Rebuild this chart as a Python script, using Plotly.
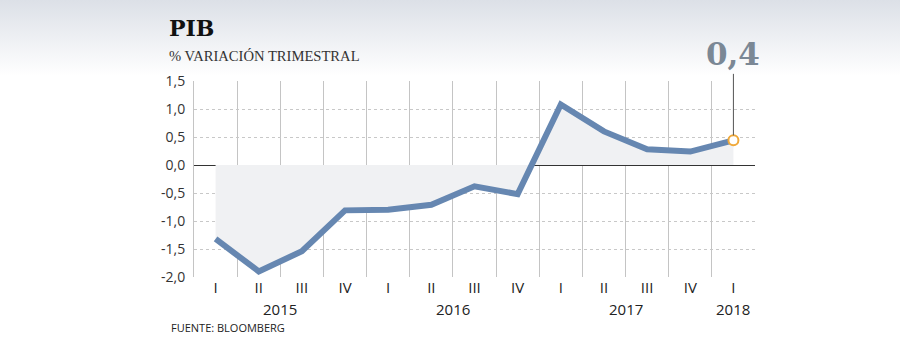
import base64
import plotly.graph_objects as go

# ---------------- data ----------------
quarters = ["I", "II", "III", "IV", "I", "II", "III", "IV", "I", "II", "III", "IV", "I"]
years = ["2015", "2015", "2015", "2015", "2016", "2016", "2016", "2016",
         "2017", "2017", "2017", "2017", "2018"]
gdp_qoq = [-1.32, -1.90, -1.54, -0.81, -0.80, -0.71, -0.38, -0.52,
           1.08, 0.60, 0.28, 0.24, 0.44]
y_tickvals = [-2.0, -1.5, -1.0, -0.5, 0.0, 0.5, 1.0, 1.5]
y_ticktext = ["-2,0", "-1,5", "-1,0", "-0,5", "0,0", "0,5", "1,0", "1,5"]
title = "PIB"
subtitle = "% VARIACIÓN TRIMESTRAL"
source = "FUENTE: BLOOMBERG"

# ---------------- layout geometry ----------------
W, H = 900, 354
L, R, T, B = 194, 145, 81, 77
PW, PH = W - L - R, H - T - B

def px_x(x):
    return (x - L) / PW

def px_y(y):
    return (H - B - y) / PH

idx = list(range(len(gdp_qoq)))
LINE = "#6687b1"

fig = go.Figure()
fig.add_trace(go.Scatter(
    x=idx, y=gdp_qoq, mode="lines", fill="tozeroy",
    fillcolor="#f0f1f3", line=dict(color=LINE, width=6),
    hoverinfo="skip", showlegend=False,
))
fig.add_trace(go.Scatter(
    x=[idx[-1]], y=[gdp_qoq[-1]], mode="markers",
    marker=dict(size=10, color="white", line=dict(color="#f0a93a", width=2)),
    cliponaxis=False, hoverinfo="skip", showlegend=False,
))

# header gradient
svg = ('<svg xmlns="http://www.w3.org/2000/svg" width="900" height="76" preserveAspectRatio="none">'
       '<defs><linearGradient id="g" x1="0" y1="0" x2="0" y2="1">'
       '<stop offset="0" stop-color="#dce0e7"/><stop offset="1" stop-color="#ffffff"/>'
       '</linearGradient></defs><rect width="900" height="76" fill="url(#g)"/></svg>')
src = "data:image/svg+xml;base64," + base64.b64encode(svg.encode()).decode()

annotations = [
    dict(text="<b>" + title + "</b>", x=px_x(167), y=px_y(28), xref="paper", yref="paper",
         xanchor="left", yanchor="middle", showarrow=False,
         font=dict(family="DejaVu Serif", size=22, color="#111")),
    dict(text=subtitle, x=px_x(167), y=px_y(56), xref="paper", yref="paper",
         xanchor="left", yanchor="middle", showarrow=False,
         font=dict(family="Liberation Serif", size=14.6, color="#333")),
    dict(text=source, x=px_x(169), y=px_y(327), xref="paper", yref="paper",
         xanchor="left", yanchor="middle", showarrow=False,
         font=dict(family="Open Sans", size=11, color="#222")),
    dict(text="<b>" + f"{gdp_qoq[-1]:.1f}".replace(".", ",") + "</b>",
         x=idx[-1], y=gdp_qoq[-1], xref="x", yref="y",
         ax=0, ay=-86, axref="pixel", ayref="pixel",
         showarrow=True, arrowhead=0, arrowwidth=1, arrowcolor="#555",
         standoff=5, font=dict(family="DejaVu Serif", size=31, color="#7b8895")),
]
# year labels centred under their quarters
seen = []
for yv in years:
    if yv not in seen:
        seen.append(yv)
for yv in seen:
    pos = [i for i, v in zip(idx, years) if v == yv]
    annotations.append(dict(
        text=yv, x=sum(pos) / len(pos), y=px_y(309), xref="x", yref="paper",
        xanchor="center", yanchor="middle", showarrow=False,
        font=dict(family="Open Sans", size=15, color="#222")))

fig.update_layout(
    width=W, height=H, margin=dict(l=L, r=R, t=T, b=B),
    paper_bgcolor="white", plot_bgcolor="rgba(0,0,0,0)",
    images=[dict(source=src, xref="paper", yref="paper", x=px_x(0), y=px_y(0),
                 sizex=W / PW, sizey=76 / PH, xanchor="left", yanchor="top",
                 sizing="stretch", layer="below")],
    annotations=annotations,
    xaxis=dict(
        range=[-0.5, len(idx) - 0.5], tickmode="array", tickvals=idx, ticktext=quarters,
        showgrid=False, zeroline=False, showline=False,
        ticks="", ticklen=0,
        tickfont=dict(family="Open Sans", size=15, color="#222"),
        minor=dict(tickmode="array", tickvals=[i - 0.5 for i in range(len(idx) + 1)],
                   showgrid=True, gridcolor="#c4c4c4", gridwidth=1, ticks=""),
        fixedrange=True,
    ),
    yaxis=dict(
        range=[y_tickvals[0], y_tickvals[-1]], tickmode="array",
        tickvals=y_tickvals, ticktext=y_ticktext,
        showgrid=True, gridcolor="#c8c8c8", griddash="3px,3px", gridwidth=1,
        zeroline=True, zerolinecolor="#333", zerolinewidth=1,
        showline=True, linecolor="#c4c4c4", linewidth=1,
        ticks="outside", ticklen=5, tickcolor="rgba(0,0,0,0)",
        tickfont=dict(family="Open Sans", size=14, color="#333"),
        fixedrange=True,
    ),
)

fig.write_html("out.html")
